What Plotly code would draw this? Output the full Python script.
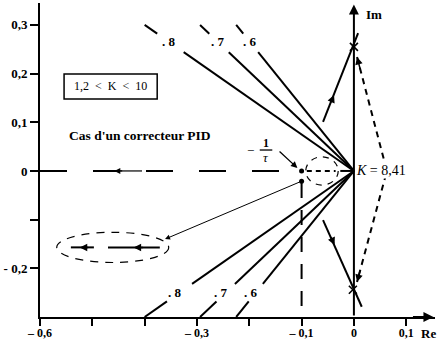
import numpy as np
import plotly.graph_objects as go

# Damping-ratio rays through the origin
zetas = [0.8, 0.7, 0.6]
zeta_labels = [". 8", ". 7", ". 6"]
upper_solid_im = 0.244          # solid part of upper rays ends here
upper_tail_im = [0.282, 0.300]  # short end piece beyond the label
upper_label_im = 0.265
lower_solid_im = -0.232
lower_tail_im = [-0.268, -0.300]
lower_label_im = -0.250

# Zero of the PID corrector (-1/tau) and neighbouring pole
zero_re = -0.10
zero_pts_re = [-0.10, -0.10]
zero_pts_im = [0.0, -0.021]

# Root-locus branches near the imaginary axis
branch_up_re = [-0.059, 0.008]
branch_up_im = [0.101, 0.283]
branch_dn_re = [-0.059, 0.015]
branch_dn_im = [-0.101, -0.279]
crossing_re = [0.0, -0.002]
crossing_im = [0.255, -0.244]
unstable_re = [0.006, 0.063, 0.006]
unstable_im = [0.234, 0.0, -0.228]
k_crit_text = "<i>K</i> = 8,41"

# Magnified view of the zero/pole pair on the real axis
zoom_center = (-0.461, -0.157)
zoom_radii = (0.107, 0.031)
zoom_seg1_re = [-0.541, -0.497]
zoom_seg2_re = [-0.470, -0.371]
small_center = (-0.061, 0.0)
small_radii = (0.031, 0.029)

# Axes
x_range = [-0.6, 0.155]
y_range = [-0.3, 0.345]
x_tickvals = [-0.6, -0.5, -0.4, -0.3, -0.2, -0.1, 0.0, 0.1]
x_ticktext = ["– 0,6", "", "", "– 0,3", "", "– 0,1", "0", "0,1"]
y_tickvals = [0.3, 0.2, 0.1, 0.0, -0.1, -0.2]
y_ticktext = ["0,3", "0,2", "0,1", "0", "", "- 0,2"]

SERIF = "Liberation Serif"
INK = "black"
NB = "\u00a0"

fig = go.Figure()


def add_line(xs, ys, width=2, dash="solid"):
    fig.add_trace(go.Scatter(x=xs, y=ys, mode="lines",
                             line=dict(color=INK, width=width, dash=dash),
                             hoverinfo="skip", showlegend=False))


def add_head(tip, tail, width=1.5, size=1.0):
    fig.add_annotation(x=tip[0], y=tip[1], ax=tail[0], ay=tail[1],
                       xref="x", yref="y", axref="x", ayref="y",
                       text="", showarrow=True, arrowhead=2,
                       arrowsize=size, arrowwidth=width, arrowcolor=INK)


# damping rays, upper and lower halves
for z, lab in zip(zetas, zeta_labels):
    slope = np.sqrt(1 - z ** 2) / z
    add_line([0, -upper_solid_im / slope], [0, upper_solid_im])
    add_line([-v / slope for v in upper_tail_im], upper_tail_im)
    add_line([0, lower_solid_im / slope], [0, lower_solid_im])
    add_line([v / slope for v in lower_tail_im], lower_tail_im)
    fig.add_annotation(x=-upper_label_im / slope, y=upper_label_im, text=lab,
                       showarrow=False, font=dict(family=SERIF, size=13,
                                                  color=INK, weight="bold"))
    fig.add_annotation(x=lower_label_im / slope, y=lower_label_im, text=lab,
                       xshift=-5, showarrow=False,
                       font=dict(family=SERIF, size=13, color=INK,
                                 weight="bold"))

# real-axis locus (dashed) from the far left to -1/tau
add_line([x_range[0], zero_re], [0, 0], width=2, dash="27px,26px")
add_line([-0.46, -0.405], [0, 0], width=1.2)
add_head((-0.458, 0), (-0.44, 0), width=1.2)
# short dashes between -1/tau and the origin
add_line([-0.09, -0.035], [0, 0], width=2, dash="5px,4px")
add_line([-0.026, 0], [0, 0], width=2)

# vertical dashed line below the zero
add_line([zero_re, zero_re], [-0.025, y_range[0]], width=2, dash="15px,12px")

# zero / pole dots
fig.add_trace(go.Scatter(x=zero_pts_re, y=zero_pts_im, mode="markers",
                         marker=dict(color=INK, size=5),
                         hoverinfo="skip", showlegend=False))

# branches crossing the imaginary axis
add_line(branch_up_re, branch_up_im, width=2)
add_line(branch_dn_re, branch_dn_im, width=2)
add_head((-0.038, 0.156), (-0.045, 0.138), width=1.5)
add_head((-0.037, -0.152), (-0.045, -0.133), width=1.5)
fig.add_trace(go.Scatter(x=crossing_re, y=crossing_im, mode="markers",
                         marker=dict(symbol="x-thin", size=8,
                                     line=dict(color=INK, width=1.6)),
                         hoverinfo="skip", showlegend=False))

# path through the right half-plane (dashed)
add_line(unstable_re, unstable_im, width=2, dash="6px,5px")
for i in (0, 2):
    tip = (unstable_re[i], unstable_im[i])
    d = (unstable_re[i] - unstable_re[1], unstable_im[i] - unstable_im[1])
    add_head(tip, (tip[0] - 0.12 * d[0], tip[1] - 0.12 * d[1]), width=1.5)

# magnified view: small circle around the pair, big ellipse on the left
fig.add_shape(type="circle", xref="x", yref="y",
              x0=small_center[0] - small_radii[0],
              x1=small_center[0] + small_radii[0],
              y0=small_center[1] - small_radii[1],
              y1=small_center[1] + small_radii[1],
              line=dict(color=INK, width=1.2, dash="6px,6px"))
fig.add_shape(type="circle", xref="x", yref="y",
              x0=zoom_center[0] - zoom_radii[0],
              x1=zoom_center[0] + zoom_radii[0],
              y0=zoom_center[1] - zoom_radii[1],
              y1=zoom_center[1] + zoom_radii[1],
              line=dict(color=INK, width=1.2, dash="8px,7px"))
zy = zoom_center[1]
add_line(zoom_seg1_re, [zy, zy], width=2)
add_line(zoom_seg2_re, [zy, zy], width=2)
add_head((-0.524, zy), (-0.505, zy), width=1.5)
add_head((-0.421, zy), (-0.400, zy), width=1.5)
add_head((-0.361, -0.140), (zero_pts_re[1], zero_pts_im[1]), width=1.0)

# -1/tau label and its arrow
add_head((-0.108, 0.006), (-0.145, 0.043), width=1.3)
fig.add_annotation(x=-0.198, y=0.043, text="−", showarrow=False,
                   font=dict(family=SERIF, size=13, color=INK))
fig.add_annotation(x=-0.168, y=0.058, text="1", showarrow=False,
                   font=dict(family=SERIF, size=12, color=INK, weight="bold"))
fig.add_annotation(x=-0.168, y=0.027, text="<i>τ</i>", showarrow=False,
                   font=dict(family=SERIF, size=13, color=INK))
add_line([-0.180, -0.156], [0.043, 0.043], width=1.3)

# critical gain text
fig.add_annotation(x=0.003, y=0.0, text=k_crit_text, showarrow=False,
                   xanchor="left", bgcolor="white", borderpad=0,
                   font=dict(family=SERIF, size=14, color=INK))

# gain range box and caption
fig.add_shape(type="rect", xref="x", yref="y", x0=-0.554, x1=-0.376,
              y0=0.148, y1=0.199, line=dict(color=INK, width=1.5))
fig.add_annotation(x=-0.465, y=0.1735,
                   text=f"1,2{NB}{NB}<{NB}{NB}K{NB}{NB}<{NB}{NB}10",
                   showarrow=False,
                   font=dict(family=SERIF, size=12, color=INK))
fig.add_annotation(x=-0.408, y=0.072, text="Cas d'un correcteur PID",
                   showarrow=False,
                   font=dict(family=SERIF, size=13.5, color=INK,
                             weight="bold"))

# imaginary axis with arrow, real-axis arrow, axis names
fig.add_annotation(x=0, y=0.342, ax=0, ay=y_range[0], xref="x", yref="y",
                   axref="x", ayref="y", text="", showarrow=True,
                   arrowhead=2, arrowsize=1, arrowwidth=2, arrowcolor=INK)
fig.add_annotation(x=0.152, y=y_range[0], ax=0.11, ay=y_range[0], xref="x",
                   yref="y", axref="x", ayref="y", text="", showarrow=True,
                   arrowhead=2, arrowsize=1, arrowwidth=2, arrowcolor=INK)
fig.add_annotation(x=0.038, y=0.322, text="Im", showarrow=False,
                   font=dict(family=SERIF, size=13, color=INK, weight="bold"))
fig.add_annotation(x=0.142, y=y_range[0], yshift=-16, text="Re",
                   showarrow=False,
                   font=dict(family=SERIF, size=13, color=INK, weight="bold"))

axis_common = dict(showgrid=False, zeroline=False, showline=True,
                   linewidth=2, linecolor=INK, ticks="outside",
                   tickwidth=2, tickcolor=INK, automargin=False)
fig.update_xaxes(range=x_range, tickvals=x_tickvals, ticktext=x_ticktext,
                 ticklen=7, ticklabelstandoff=-3,
                 tickfont=dict(family=SERIF, size=12, color=INK,
                               weight="bold"),
                 **axis_common)
fig.update_yaxes(range=y_range, tickvals=y_tickvals, ticktext=y_ticktext,
                 ticklen=8,
                 tickfont=dict(family=SERIF, size=13, color=INK,
                               weight="bold"),
                 **axis_common)

fig.update_layout(width=438, height=343,
                  margin=dict(l=40, r=3, t=3, b=26),
                  plot_bgcolor="white", paper_bgcolor="white",
                  showlegend=False)

fig.write_html("out.html")
